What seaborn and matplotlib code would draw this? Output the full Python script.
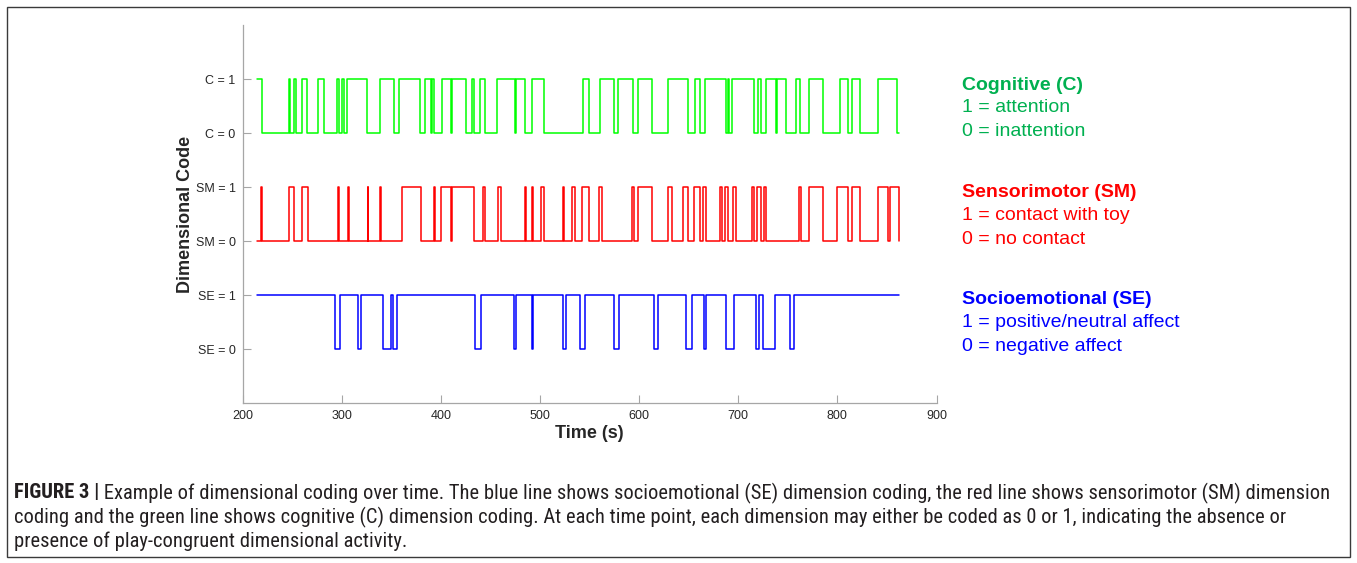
import numpy as np
import pandas as pd
import matplotlib
matplotlib.use("Agg")
import matplotlib.pyplot as plt
from matplotlib.patches import Rectangle
from matplotlib import font_manager
import seaborn as sns

# ---------------- data ----------------
t_start = 215.0
t_end = 862.0

# Cognitive (C): initial state and times at which the code toggles
c_initial = 1
c_switch = [220.0, 246.7, 248.1, 252.2, 253.5, 260.2, 265.3, 276.4, 282.4,
            295.2, 297.2, 299.9, 301.9, 305.2, 325.4, 338.9, 352.4, 357.7,
            379.3, 384.0, 390.0, 391.4, 393.4, 401.5, 410.2, 411.2, 425.0,
            431.8, 433.8, 439.9, 444.6, 456.6, 474.8, 476.2, 484.9, 492.3,
            504.4, 543.4, 549.5, 560.3, 575.1, 578.4, 593.8, 599.3, 612.7,
            629.6, 649.0, 656.0, 661.6, 666.5, 688.0, 689.4, 690.7, 694.2,
            716.3, 719.7, 723.0, 727.8, 737.9, 738.9, 748.0, 758.0, 762.0,
            771.4, 785.5, 803.1, 810.5, 815.2, 823.3, 840.8, 860.3]

# Sensorimotor (SM)
sm_initial = 0
sm_switch = [218.5, 219.9, 246.7, 252.2, 260.2, 265.6, 295.9, 297.2, 306.6,
             307.7, 326.1, 326.8, 338.9, 339.6, 361.1, 379.9, 392.7, 394.1,
             400.1, 410.2, 411.6, 433.1, 442.5, 444.6, 458.0, 460.6, 484.9,
             486.3, 491.6, 492.9, 501.0, 504.4, 523.2, 524.6, 532.7, 535.3,
             542.1, 549.5, 559.6, 562.3, 592.5, 594.4, 599.3, 613.4, 629.6,
             633.6, 644.3, 649.7, 655.1, 661.2, 664.6, 667.2, 681.3, 684.0,
             686.7, 690.1, 694.8, 698.2, 713.6, 715.6, 719.0, 723.0, 725.8,
             727.8, 761.0, 763.3, 771.4, 785.5, 799.7, 810.5, 815.2, 823.3,
             840.8, 850.9, 852.9, 861.9]

# Socioemotional (SE)
se_initial = 1
se_switch = [293.8, 298.6, 316.0, 319.4, 341.6, 349.7, 351.7, 355.7, 434.4,
             440.5, 474.2, 476.2, 491.6, 492.9, 523.2, 525.9, 540.8, 545.4,
             574.4, 579.7, 614.7, 619.4, 647.7, 653.8, 665.9, 667.2, 687.4,
             696.1, 718.0, 720.7, 724.7, 737.6, 752.6, 756.7]

ytick_labels = ["SE = 0", "SE = 1", "SM = 0", "SM = 1", "C = 0", "C = 1"]
xticks = [200, 300, 400, 500, 600, 700, 800, 900]

legend_blocks = [
    ("Cognitive (C)", "1 = attention", "0 = inattention"),
    ("Sensorimotor (SM)", "1 = contact with toy", "0 = no contact"),
    ("Socioemotional (SE)", "1 = positive/neutral affect", "0 = negative affect"),
]
caption_lines = [
    "Example of dimensional coding over time. The blue line shows socioemotional (SE) dimension coding, the red line shows sensorimotor (SM) dimension",
    "coding and the green line shows cognitive (C) dimension coding. At each time point, each dimension may either be coded as 0 or 1, indicating the absence or",
    "presence of play-congruent dimensional activity.",
]
caption_prefix = "FIGURE 3 |"


def build(initial, switches, offset, name):
    times = [t_start] + list(switches)
    vals = []
    v = initial
    vals.append(v)
    for _ in switches:
        v = 1 - v
        vals.append(v)
    if switches[-1] < t_end:
        times.append(t_end)
        vals.append(v)
    return pd.DataFrame({"time": times, "code": np.array(vals) + offset,
                         "dim": name})


df_c = build(c_initial, c_switch, 4, "C")
df_sm = build(sm_initial, sm_switch, 2, "SM")
df_se = build(se_initial, se_switch, 0, "SE")

# ---------------- figure ----------------
sns.set_theme(style="white")
plt.rcParams["font.family"] = ["Liberation Sans", "DejaVu Sans"]

W, H = 1357, 563
fig = plt.figure(figsize=(W / 100, H / 100), dpi=100)
ax = fig.add_axes([242.5 / W, 1 - 403 / H, 694 / W, 378 / H])

line_colors = {"C": "#00FF00", "SM": "#FF0000", "SE": "#0000FF"}
for d in (df_c, df_sm, df_se):
    sns.lineplot(data=d, x="time", y="code", ax=ax, estimator=None, sort=False,
                 drawstyle="steps-post", color=line_colors[d["dim"].iloc[0]],
                 lw=1.1, legend=False)

ax.set_xlim(200, 900)
ax.set_ylim(-1, 6)
ax.set_xticks(xticks)
ax.set_xticklabels([str(x) for x in xticks])
ax.set_yticks(range(6))
ax.set_yticklabels(ytick_labels)

for side in ("top", "right"):
    ax.spines[side].set_visible(False)
for side in ("left", "bottom"):
    ax.spines[side].set_color("#a6a6a6")
    ax.spines[side].set_linewidth(0.9)

ax.tick_params(axis="both", direction="in", length=6, width=0.8,
               color="#a6a6a6", labelcolor="#262626", labelsize=9, pad=5,
               left=True, bottom=True)

ax.set_xlabel("Time (s)", fontsize=13, fontweight="bold", color="#262626")
ax.set_ylabel("Dimensional Code", fontsize=13, fontweight="bold", color="#262626")
ax.xaxis.label.set_verticalalignment("center")
ax.yaxis.label.set_verticalalignment("center")
ax.xaxis.set_label_coords(0.5, (403 - 433) / 378)
ax.yaxis.set_label_coords((186 - 242.5) / 694, 0.5)

# legend-like text on the right
text_colors = ["#00B050", "#FF0000", "#0000FF"]
ys = [(85, 108, 131.7), (192.7, 215.7, 239.3), (299.3, 322.7, 346.3)]
for (title, l1, l2), col, (y0, y1, y2) in zip(legend_blocks, text_colors, ys):
    fig.text(962.5 / W, 1 - y0 / H, title, color=col, fontsize=14,
             fontweight="bold", va="center", ha="left")
    fig.text(962.5 / W, 1 - y1 / H, l1, color=col, fontsize=14,
             va="center", ha="left")
    fig.text(962.5 / W, 1 - y2 / H, l2, color=col, fontsize=14,
             va="center", ha="left")

# caption: prefer a condensed face if one is installed
names = {f.name for f in font_manager.fontManager.ttflist}
cap_kw = {"family": ["Liberation Sans", "DejaVu Sans"]}
for cand in ("Liberation Sans Narrow", "Roboto Condensed", "Open Sans Condensed",
             "DejaVu Sans Condensed"):
    if cand in names:
        cap_kw = {"family": [cand, "DejaVu Sans"]}
        break
else:
    cond = [f for f in font_manager.fontManager.ttflist
            if str(f.stretch) in ("condensed", "semi-condensed", "575", "500")
            and f.name in ("DejaVu Sans", "Roboto", "Open Sans", "Noto Sans")]
    if cond:
        cap_kw = {"family": [cond[0].name, "DejaVu Sans"],
                  "fontstretch": "condensed"}

fig.canvas.draw()
r = fig.canvas.get_renderer()
size = 13.0
target = 1329 - 14
for _ in range(4):
    tb = fig.text(14 / W, 1 - 493 / H, caption_prefix, fontsize=size,
                  fontweight="bold", va="center", **cap_kw)
    tr = fig.text(0, 0, " " + caption_lines[0], fontsize=size, va="center",
                  **cap_kw)
    wtot = tb.get_window_extent(r).width + tr.get_window_extent(r).width
    tb.remove()
    tr.remove()
    size *= target / wtot
size = min(size, 15.5)

cap_col = "#231f20"
tb = fig.text(14 / W, 1 - 493 / H, caption_prefix, fontsize=size,
              fontweight="bold", va="center", color=cap_col, **cap_kw)
bb = tb.get_window_extent(r)
fig.text(bb.x1 / W, 1 - 493 / H, " " + caption_lines[0], fontsize=size,
         va="center", color=cap_col, **cap_kw)
fig.text(14 / W, 1 - 517 / H, caption_lines[1], fontsize=size,
         va="center", color=cap_col, **cap_kw)
fig.text(14 / W, 1 - 541 / H, caption_lines[2], fontsize=size,
         va="center", color=cap_col, **cap_kw)

# outer frame
fig.patches.append(Rectangle((6.5 / W, 1 - 557 / H), (1350 - 6.5) / W,
                             (557 - 6.5) / H, transform=fig.transFigure,
                             fill=False, ec="#3a3a3a", lw=1))

fig.savefig("out.png", dpi=100)
